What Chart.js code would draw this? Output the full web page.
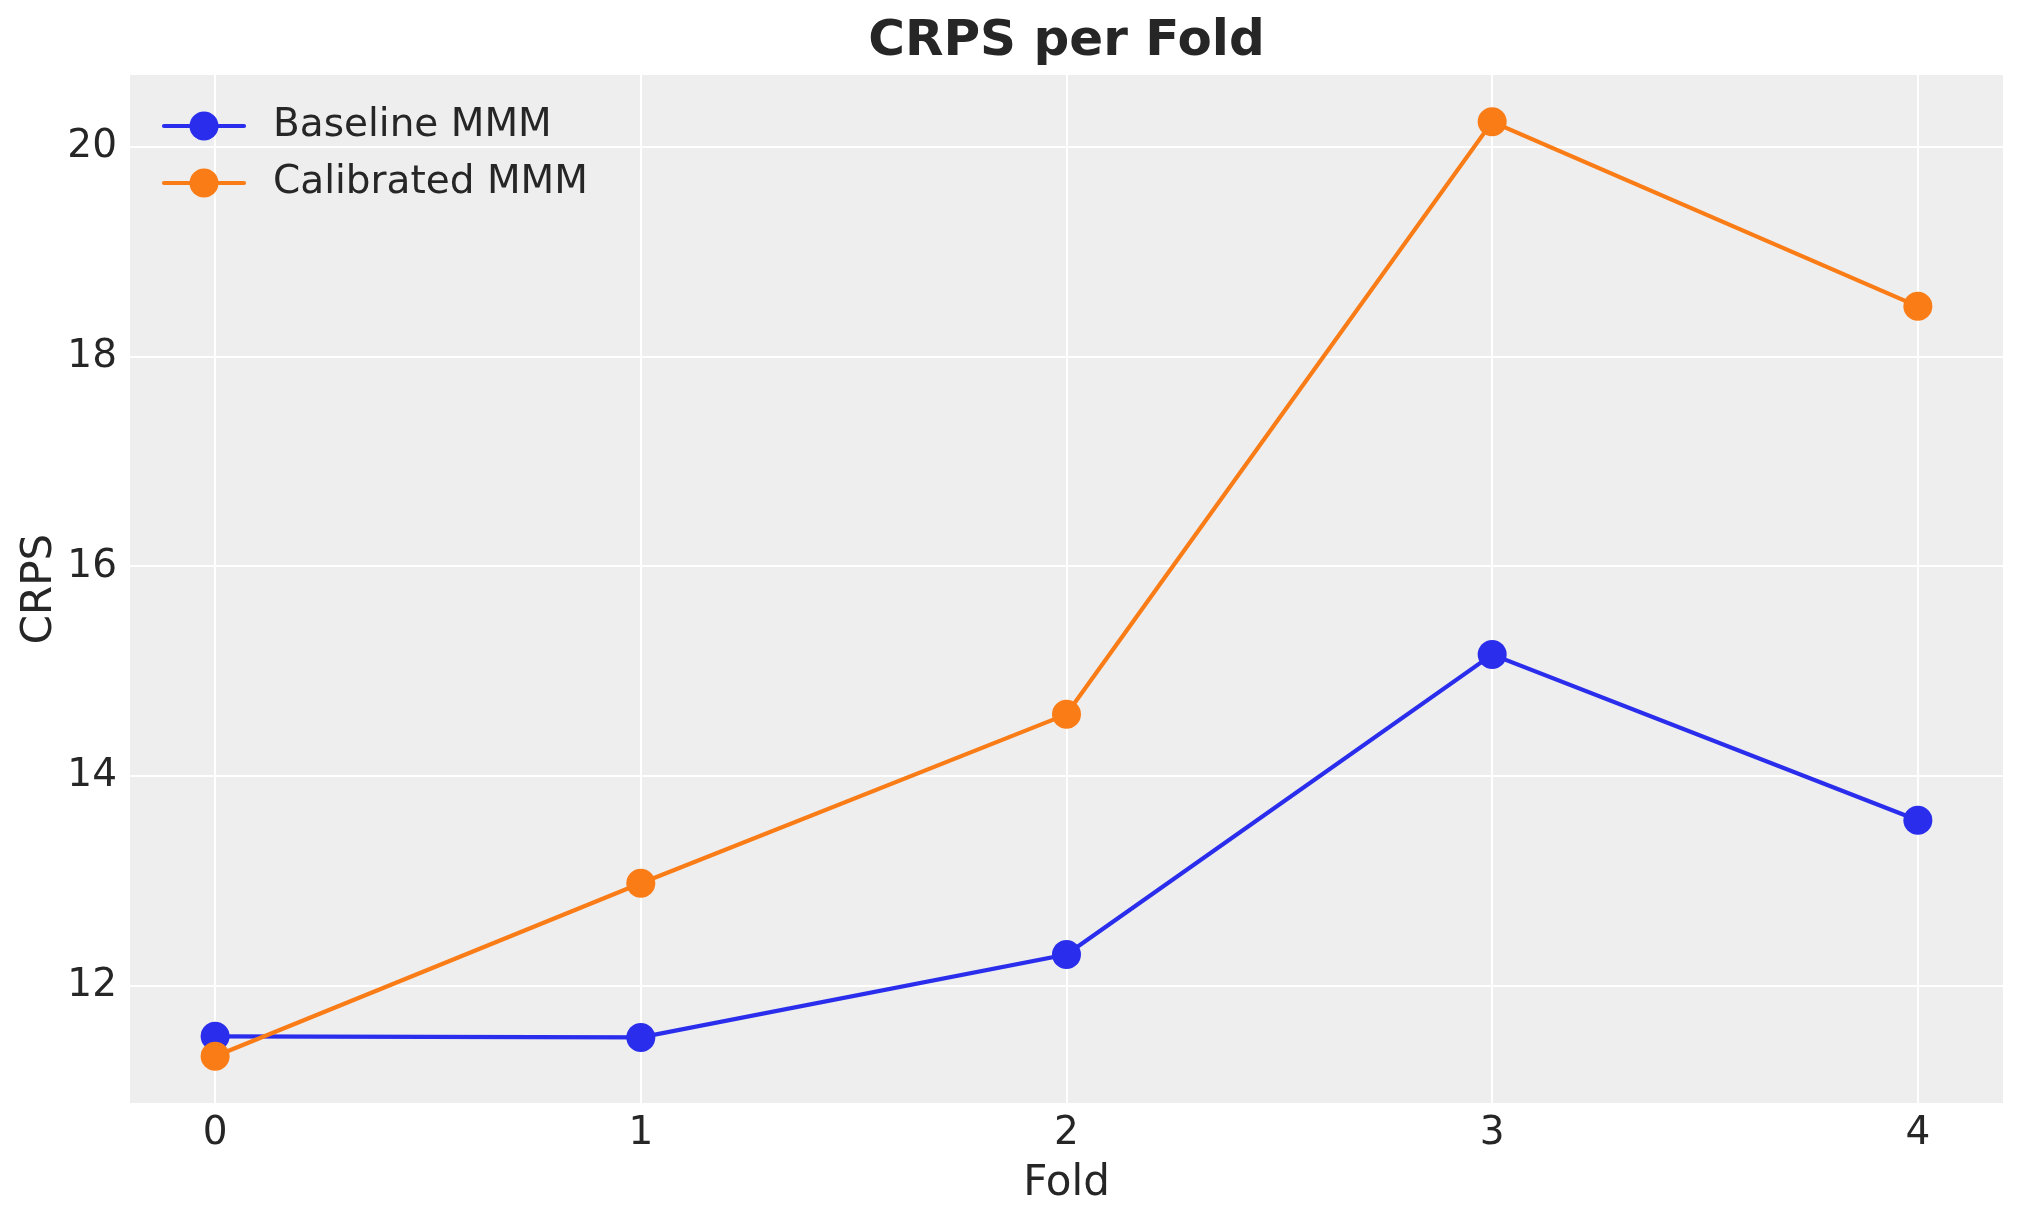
<!DOCTYPE html>
<html>
<head>
<meta charset="utf-8">
<title>CRPS per Fold</title>
<script src="https://cdn.jsdelivr.net/npm/chart.js@4.4.1/dist/chart.umd.min.js"></script>
<style>
  html, body { margin: 0; padding: 0; background: #ffffff; }
  #wrap { width: 2023px; height: 1223px; position: relative; }
</style>
</head>
<body>
<div id="wrap"><canvas id="crps-chart"></canvas></div>
<script>
// values
const folds = [0, 1, 2, 3, 4];
const baselineCrps = [11.52, 11.51, 12.30, 15.16, 13.58];
const calibratedCrps = [11.33, 12.98, 14.59, 20.24, 18.48];
const yTickValues = [12, 14, 16, 18, 20];
const seriesNames = ['Baseline MMM', 'Calibrated MMM'];

const BLUE = '#2a2eec';
const ORANGE = '#fa7c17';
const TEXT = '#262626';
const FONT = "'DejaVu Sans', sans-serif";

// matplotlib-like 5% margins
const allY = baselineCrps.concat(calibratedCrps);
const yLo = Math.min(...allY), yHi = Math.max(...allY);
const yPad = (yHi - yLo) * 0.05;
const xPad = (folds[folds.length - 1] - folds[0]) * 0.05;

const toPoints = vals => vals.map((v, i) => ({ x: folds[i], y: v }));

// grey plot background
const plotBackground = {
  id: 'plotBackground',
  beforeDraw(chart) {
    const { ctx, chartArea: ca } = chart;
    ctx.save();
    ctx.fillStyle = '#ffffff';
    ctx.fillRect(0, 0, chart.width, chart.height);
    ctx.fillStyle = '#eeeeee';
    ctx.fillRect(ca.left, ca.top, ca.right - ca.left, ca.bottom - ca.top);
    ctx.restore();
  }
};

// legend inside the axes, line + marker like matplotlib
const innerLegend = {
  id: 'innerLegend',
  afterDraw(chart) {
    const { ctx, chartArea: ca } = chart;
    const rows = [51, 108];
    ctx.save();
    chart.data.datasets.forEach((ds, i) => {
      const y = ca.top + rows[i];
      ctx.strokeStyle = ds.borderColor;
      ctx.lineWidth = 4.2;
      ctx.lineCap = 'round';
      ctx.beginPath();
      ctx.moveTo(ca.left + 34, y);
      ctx.lineTo(ca.left + 114, y);
      ctx.stroke();
      ctx.fillStyle = ds.pointBackgroundColor;
      ctx.beginPath();
      ctx.arc(ca.left + 74, y, 14.5, 0, Math.PI * 2);
      ctx.fill();
      ctx.fillStyle = TEXT;
      ctx.font = `39px ${FONT}`;
      ctx.textBaseline = 'middle';
      ctx.textAlign = 'left';
      ctx.fillText(ds.label, ca.left + 143, y);
    });
    ctx.restore();
  }
};

const ctx = document.getElementById('crps-chart').getContext('2d');
new Chart(ctx, {
  type: 'line',
  data: {
    datasets: [
      {
        label: seriesNames[0],
        data: toPoints(baselineCrps),
        borderColor: BLUE,
        backgroundColor: BLUE,
        pointBackgroundColor: BLUE,
        borderWidth: 4.2,
        pointRadius: 14.5,
        pointBorderWidth: 0,
        tension: 0,
        order: 1
      },
      {
        label: seriesNames[1],
        data: toPoints(calibratedCrps),
        borderColor: ORANGE,
        backgroundColor: ORANGE,
        pointBackgroundColor: ORANGE,
        borderWidth: 4.2,
        pointRadius: 14.5,
        pointBorderWidth: 0,
        tension: 0,
        order: 0
      }
    ]
  },
  options: {
    responsive: true,
    maintainAspectRatio: false,
    devicePixelRatio: 1,
    animation: false,
    events: [],
    layout: { padding: { left: 0, right: 20, top: 0, bottom: 0 } },
    scales: {
      x: {
        type: 'linear',
        min: folds[0] - xPad,
        max: folds[folds.length - 1] + xPad,
        afterBuildTicks: scale => { scale.ticks = folds.map(v => ({ value: v })); },
        afterFit: scale => { scale.height = 120; },
        border: { display: false },
        grid: { color: '#ffffff', lineWidth: 2, drawTicks: false },
        ticks: {
          color: TEXT,
          font: { family: FONT, size: 39 },
          padding: 7,
          maxRotation: 0,
          callback: v => String(v)
        },
        title: {
          display: true,
          text: 'Fold',
          color: TEXT,
          font: { family: FONT, size: 42 },
          padding: { top: 0, bottom: 14 }
        }
      },
      // top axis only carries the title, so it is centred over the plot like matplotlib
      top: {
        type: 'linear',
        position: 'top',
        min: folds[0] - xPad,
        max: folds[folds.length - 1] + xPad,
        afterBuildTicks: scale => { scale.ticks = folds.map(v => ({ value: v })); },
        afterFit: scale => { scale.height = 75; },
        border: { display: false },
        grid: { display: false, drawTicks: false },
        ticks: { display: false },
        title: {
          display: true,
          text: 'CRPS per Fold',
          color: TEXT,
          font: { family: FONT, size: 50, weight: 'bold' },
          padding: { top: 12, bottom: 0 }
        }
      },
      y: {
        min: yLo - yPad,
        max: yHi + yPad,
        afterBuildTicks: scale => { scale.ticks = yTickValues.map(v => ({ value: v })); },
        afterFit: scale => { scale.width = 130; },
        border: { display: false },
        grid: { color: '#ffffff', lineWidth: 2, drawTicks: false },
        ticks: {
          color: TEXT,
          font: { family: FONT, size: 39 },
          padding: 13,
          callback: v => String(v)
        },
        title: {
          display: true,
          text: 'CRPS',
          color: TEXT,
          font: { family: FONT, size: 42 },
          padding: { top: 15, bottom: 0 }
        }
      }
    },
    plugins: {
      legend: { display: false },
      tooltip: { enabled: false },
      title: { display: false }
    }
  },
  plugins: [plotBackground, innerLegend]
});
</script>
</body>
</html>
